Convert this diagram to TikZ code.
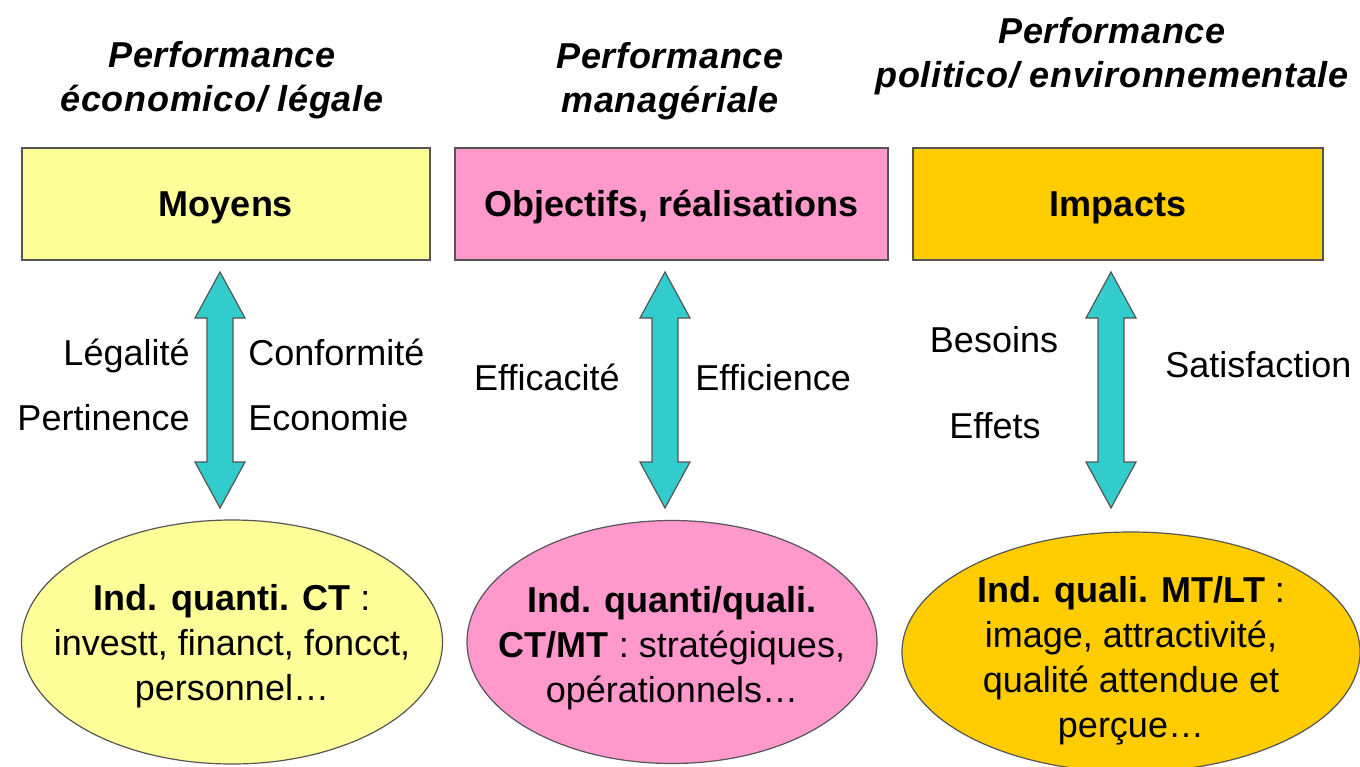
\documentclass[tikz,border=0pt]{standalone}
\usepackage{fontspec}
\setmainfont{Liberation Sans}
\newfontfamily\ttlfont[LetterSpace=2]{Liberation Sans}
\usetikzlibrary{shapes.geometric,calc}
\definecolor{lyel}{HTML}{FFFF99}
\definecolor{pnk}{HTML}{FF99CC}
\definecolor{gold}{HTML}{FFCC00}
\definecolor{turq}{HTML}{33CCCC}
\definecolor{edge}{HTML}{555555}
\tikzset{
  fnt/.style={font=\fontsize{18}{22.5}\selectfont},
  ttl/.style={font=\ttlfont\bfseries\itshape\fontsize{18}{22}\selectfont, align=center},
  topbox/.style={draw=edge, line width=0.6pt, minimum height=56pt, inner sep=0pt,
                 text height=12.9pt, text depth=0pt,
                 font=\bfseries\fontsize{18}{22.5}\selectfont},
  ell/.style={ellipse, draw=edge, line width=0.6pt, inner sep=0pt},
  elltext/.style={fnt, align=center, inner sep=0pt},
  lbl/.style={fnt, inner sep=0pt},
  bigarrow/.style={fill=turq, draw=edge, line width=0.6pt, line join=miter}
}
\newcommand{\dblarrow}[2]{%
  \draw[bigarrow] (#1) -- ($(#1)+(25,46)$) -- ($(#1)+(13,46)$) -- ($(#2)+(13,-46)$)
    -- ($(#2)+(25,-46)$) -- (#2) -- ($(#2)+(-25,-46)$) -- ($(#2)+(-13,-46)$)
    -- ($(#1)+(-13,46)$) -- ($(#1)+(-25,46)$) -- cycle;}
\begin{document}
\begin{tikzpicture}[x=0.5pt,y=-0.5pt]
\useasboundingbox (0,0) rectangle (1360,766);
\fill[white] (0,0) rectangle (1360,766);

% titles
\node[ttl] (t1) at (222,80) {Performance\\économico/ légale};
\node[ttl] (t2) at (670,81) {Performance\\managériale};
\node[ttl] (t3) at (1112,56) {Performance\\politico/ environnementale};

% boxes
\node[topbox, fill=lyel, minimum width=204pt] (b1) at (226,204) {Moyens};
\node[topbox, fill=pnk, minimum width=216.5pt] (b2) at (671.5,204) {Objectifs, réalisations};
\node[topbox, fill=gold, minimum width=205pt] (b3) at (1118,204) {Impacts};

% ellipses
\node[ell, fill=lyel, minimum width=210.5pt, minimum height=122pt] (e1) at (232,642) {};
\node[ell, fill=pnk, minimum width=205pt, minimum height=121.5pt] (e2) at (672,642) {};
\node[ell, fill=gold, minimum width=229pt, minimum height=120pt] (e3) at (1131,652) {};

\node[elltext] (x1) at (232,646) {\textbf{Ind. quanti. CT} :\\investt, financt, foncct,\\personnel…};
\node[elltext] (x2) at (672,648) {\textbf{Ind. quanti/quali.}\\\textbf{CT/MT} : stratégiques,\\opérationnels…};
\node[elltext] (x3) at (1131,661) {\textbf{Ind. quali. MT/LT} :\\image, attractivité,\\qualité attendue et\\perçue…};

% arrows
\coordinate (a1t) at (220,272); \coordinate (a1b) at (220,508);
\coordinate (a2t) at (665,272); \coordinate (a2b) at (665,508);
\coordinate (a3t) at (1111,272); \coordinate (a3b) at (1111,508);
\dblarrow{a1t}{a1b}
\dblarrow{a2t}{a2b}
\dblarrow{a3t}{a3b}

% labels
\node[lbl, anchor=base east] (l1) at (190,365) {Légalité};
\node[lbl, anchor=base east] (l2) at (190,430) {Pertinence};
\node[lbl, anchor=base west] (l3) at (248,365) {Conformité};
\node[lbl, anchor=base west] (l4) at (248,430) {Economie};
\node[lbl, anchor=base east] (l5) at (620,390) {Efficacité};
\node[lbl, anchor=base west] (l6) at (695,390) {Efficience};
\node[lbl, anchor=base] (l7) at (994,352) {Besoins};
\node[lbl, anchor=base] (l8) at (995,438) {Effets};
\node[lbl, anchor=base west] (l9) at (1165,377) {Satisfaction};
\end{tikzpicture}
\end{document}
